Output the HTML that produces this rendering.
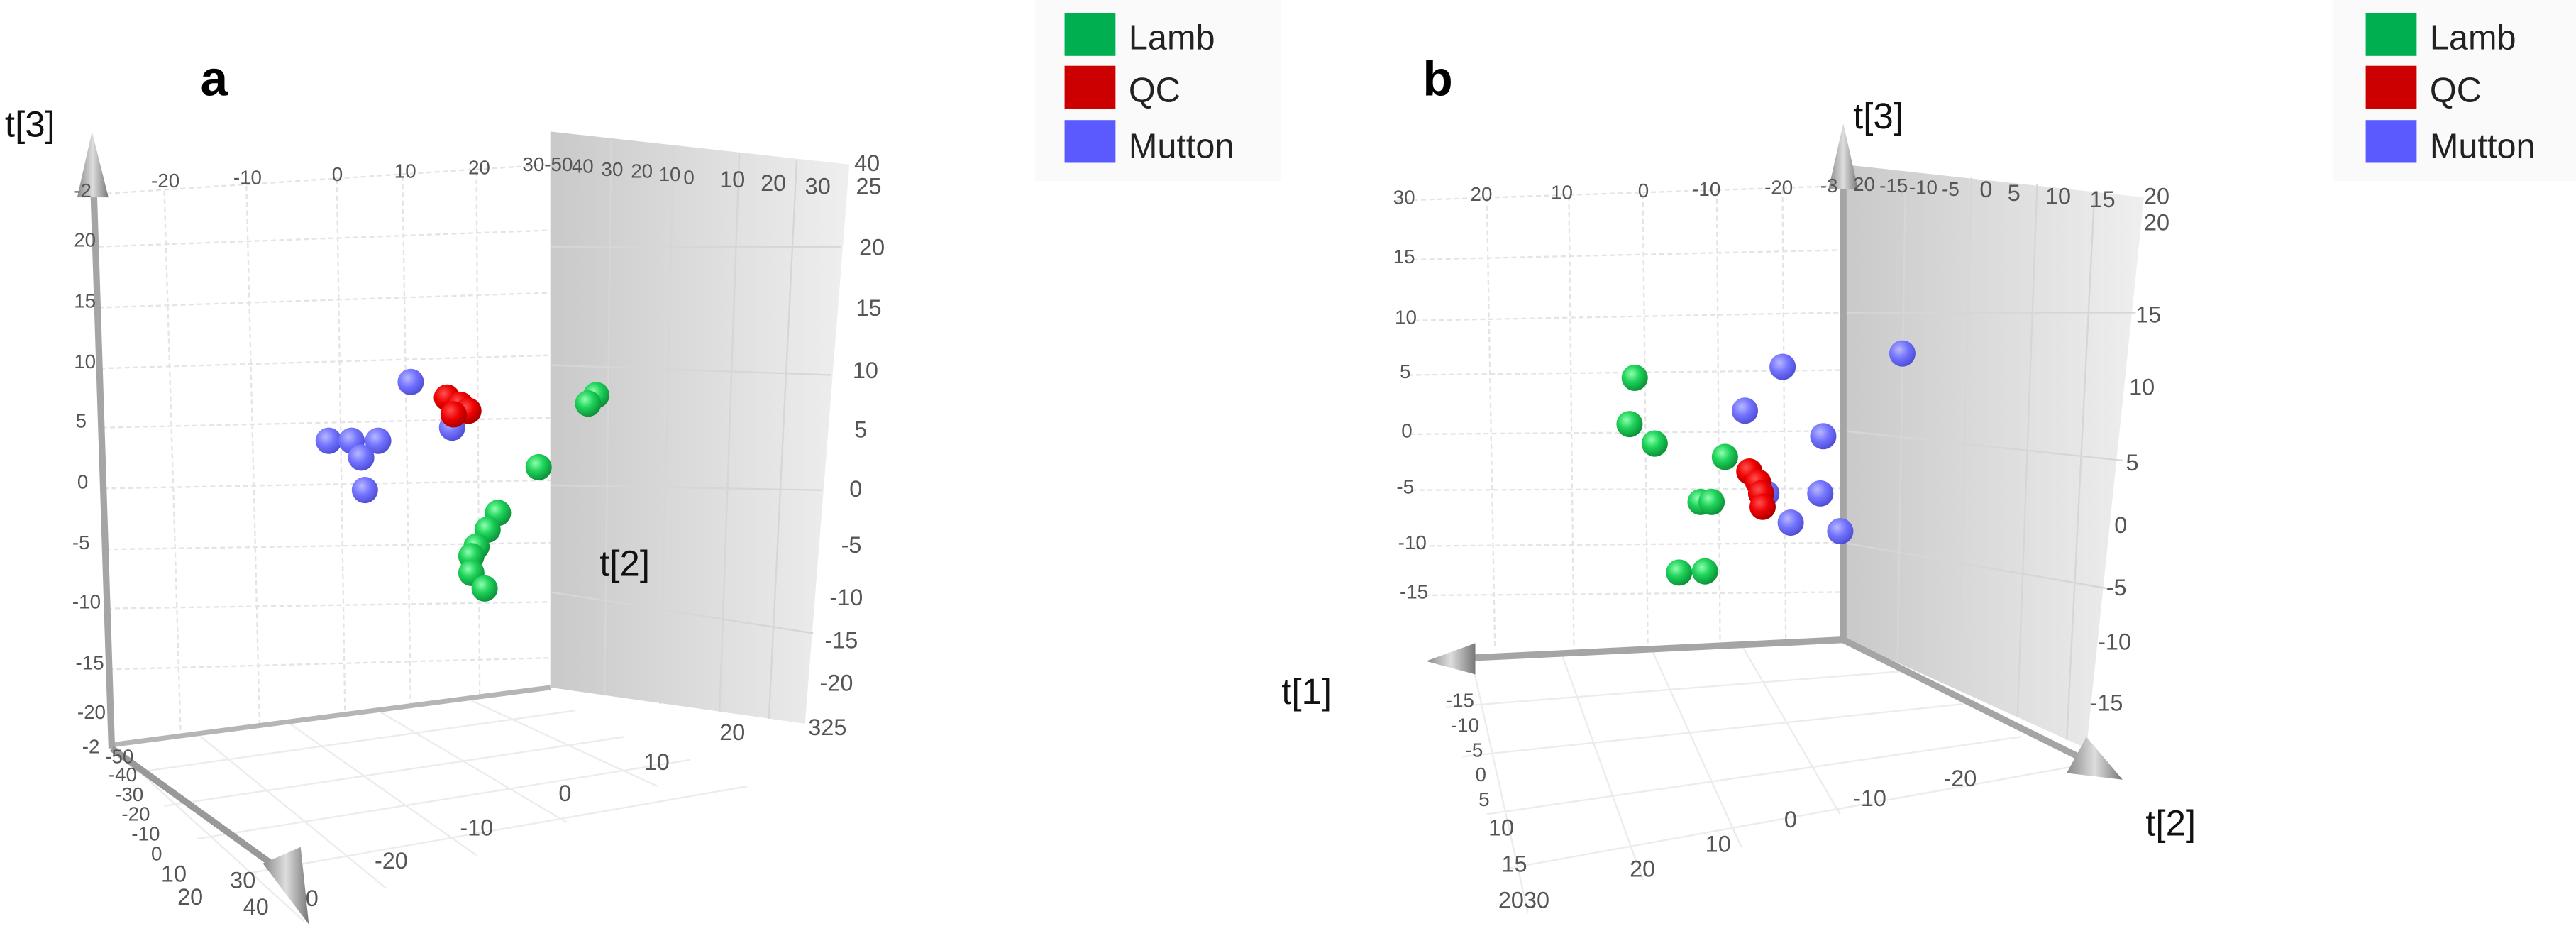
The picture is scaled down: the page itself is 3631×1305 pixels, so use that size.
<!DOCTYPE html>
<html><head><meta charset="utf-8"><style>
html,body{margin:0;padding:0;background:#fff;}
svg{display:block;}
text{font-family:"Liberation Sans","DejaVu Sans",sans-serif;}
.tk{font-size:12px;fill:#555;}
.ax{font-size:22px;fill:#111;}
.lg{font-size:21px;fill:#222;}
</style></head><body>
<svg id="chart" width="3631" height="1305" viewBox="0 0 1568 563" preserveAspectRatio="none" xmlns="http://www.w3.org/2000/svg">
<defs>
<linearGradient id="wallA" x1="0" y1="0" x2="1" y2="0"><stop offset="0" stop-color="#c9c9c9"/><stop offset="1" stop-color="#efefef"/></linearGradient>
<linearGradient id="axg" x1="0" y1="0" x2="1" y2="0"><stop offset="0" stop-color="#888"/><stop offset="0.5" stop-color="#ddd"/><stop offset="1" stop-color="#777"/></linearGradient>
<radialGradient id="gG" cx="0.38" cy="0.35" r="0.7"><stop offset="0" stop-color="#8fffb0"/><stop offset="0.45" stop-color="#1ed35a"/><stop offset="1" stop-color="#0a8a35"/></radialGradient>
<radialGradient id="gR" cx="0.38" cy="0.35" r="0.7"><stop offset="0" stop-color="#ff5050"/><stop offset="0.5" stop-color="#ee0000"/><stop offset="1" stop-color="#a00000"/></radialGradient>
<radialGradient id="gB" cx="0.38" cy="0.35" r="0.7"><stop offset="0" stop-color="#b8b8ff"/><stop offset="0.5" stop-color="#7272ff"/><stop offset="1" stop-color="#4a4ad0"/></radialGradient>
</defs>

<g>
  <g stroke="#ececec" stroke-width="1">
    <line x1="67" y1="453" x2="185" y2="560"/>
    <line x1="120" y1="446" x2="235" y2="540"/><line x1="175" y1="439" x2="290" y2="520"/>
    <line x1="230" y1="432" x2="345" y2="500"/><line x1="285" y1="425" x2="400" y2="478"/>
    <line x1="80" y1="470" x2="350" y2="432"/><line x1="100" y1="490" x2="380" y2="448"/>
    <line x1="120" y1="510" x2="420" y2="462"/><line x1="145" y1="532" x2="455" y2="478"/>
  </g>
  <g stroke="#e4e4e4" stroke-width="1" stroke-dasharray="3,2">
    <line x1="60" y1="118" x2="335" y2="100"/>
    <line x1="100" y1="116" x2="110" y2="447"/><line x1="150" y1="113" x2="158" y2="440"/>
    <line x1="205" y1="109" x2="210" y2="433"/><line x1="245" y1="107" x2="250" y2="428"/>
    <line x1="290" y1="104" x2="292" y2="423"/>
    <line x1="60" y1="150" x2="335" y2="140"/><line x1="60" y1="187" x2="335" y2="178"/>
    <line x1="61" y1="224" x2="335" y2="216"/><line x1="62" y1="260" x2="335" y2="254"/>
    <line x1="63" y1="297" x2="335" y2="292"/><line x1="64" y1="334" x2="335" y2="330"/>
    <line x1="65" y1="370" x2="335" y2="366"/><line x1="66" y1="407" x2="335" y2="400"/>
  </g>
  <polygon points="335,80 517,100 490,440 335,418" fill="url(#wallA)"/>
  <g stroke="#d6d6d6" stroke-width="1">
    <line x1="372" y1="85" x2="368" y2="423"/><line x1="410" y1="89" x2="402" y2="428"/>
    <line x1="450" y1="93" x2="438" y2="433"/><line x1="485" y1="97" x2="468" y2="437"/>
    <line x1="335" y1="150" x2="512" y2="150"/><line x1="335" y1="222" x2="506" y2="228"/>
    <line x1="335" y1="295" x2="500" y2="298"/><line x1="335" y1="360" x2="495" y2="385"/>
  </g>
  <line x1="67" y1="453" x2="335" y2="418" stroke="#b5b5b5" stroke-width="3"/>
  <line x1="68" y1="455" x2="57" y2="115" stroke="#a5a5a5" stroke-width="4"/>
  <polygon points="56,80 47,120 66,120" fill="url(#axg)"/>
  <line x1="68" y1="455" x2="172" y2="530" stroke="#999" stroke-width="4"/>
  <polygon points="188,562 160,525 183,515" fill="url(#axg)"/>
  <text class="ax" x="3" y="83">t[3]</text>
  <text class="ax" x="365" y="350">t[2]</text>
  <text x="122" y="58" font-family="Liberation Serif,serif" font-weight="bold" font-size="30">a</text>
  <g class="tk">
    <text x="92" y="114">-20</text><text x="142" y="112">-10</text><text x="202" y="110">0</text><text x="240" y="108">10</text><text x="285" y="106">20</text>
    <text x="318" y="104">30-50</text><text x="348" y="105">40</text><text x="366" y="107">30</text><text x="384" y="108">20</text><text x="401" y="110">10</text><text x="416" y="112">0</text>
    <text x="438" y="114" font-size="14">10</text><text x="463" y="116" font-size="14">20</text><text x="490" y="118" font-size="14">30</text><text x="520" y="104" font-size="14">40</text>
    <text x="521" y="118" font-size="14">25</text><text x="523" y="155" font-size="14">20</text><text x="521" y="192" font-size="14">15</text><text x="519" y="230" font-size="14">10</text>
    <text x="520" y="266" font-size="14">5</text><text x="517" y="302" font-size="14">0</text><text x="512" y="336" font-size="14">-5</text><text x="505" y="368" font-size="14">-10</text>
    <text x="502" y="394" font-size="14">-15</text><text x="499" y="420" font-size="14">-20</text><text x="492" y="447" font-size="14">325</text>
    <text x="45" y="120">-2</text><text x="45" y="150">20</text><text x="45" y="187">15</text><text x="45" y="224">10</text><text x="46" y="260">5</text><text x="47" y="297">0</text>
    <text x="44" y="334">-5</text><text x="44" y="370">-10</text><text x="46" y="407">-15</text><text x="47" y="437">-20</text><text x="50" y="458">-2</text>
    <text x="64" y="464">-50</text><text x="66" y="475">-40</text><text x="70" y="487">-30</text><text x="74" y="499">-20</text><text x="80" y="511">-10</text><text x="92" y="523">0</text>
    <text x="98" y="536" font-size="14">10</text><text x="108" y="550" font-size="14">20</text><text x="140" y="540" font-size="14">30</text><text x="148" y="556" font-size="14">40</text>
    <text x="228" y="528" font-size="14">-20</text><text x="280" y="508" font-size="14">-10</text><text x="340" y="487" font-size="14">0</text>
    <text x="392" y="468" font-size="14">10</text><text x="438" y="450" font-size="14">20</text><text x="186" y="551" font-size="14">0</text>
  </g>
  <g id="ptsA"></g>
  <g>
    <rect x="630" y="0" width="150" height="110" fill="#fafafa"/>
    <rect x="648" y="8" width="31" height="26" fill="#00b050"/>
    <text class="lg" x="687" y="30">Lamb</text>
    <rect x="648" y="40" width="31" height="26" fill="#cc0000"/>
    <text class="lg" x="687" y="62">QC</text>
    <rect x="648" y="73" width="31" height="26" fill="#5a5aff"/>
    <text class="lg" x="687" y="96">Mutton</text>
  </g>
</g>

<g>
  <g stroke="#e4e4e4" stroke-width="1" stroke-dasharray="3,2">
    <line x1="850" y1="122" x2="1122" y2="113"/>
    <line x1="905" y1="120" x2="910" y2="395"/><line x1="955" y1="119" x2="958" y2="393"/>
    <line x1="1000" y1="118" x2="1003" y2="392"/><line x1="1045" y1="116" x2="1047" y2="390"/><line x1="1085" y1="115" x2="1087" y2="389"/>
    <line x1="855" y1="158" x2="1122" y2="152"/><line x1="856" y1="195" x2="1122" y2="190"/><line x1="857" y1="228" x2="1122" y2="225"/>
    <line x1="858" y1="264" x2="1122" y2="262"/><line x1="859" y1="298" x2="1122" y2="297"/><line x1="860" y1="332" x2="1122" y2="330"/><line x1="862" y1="362" x2="1122" y2="360"/>
  </g>
  <g stroke="#ececec" stroke-width="1">
    <line x1="895" y1="398" x2="930" y2="555"/><line x1="950" y1="396" x2="1000" y2="535"/><line x1="1005" y1="394" x2="1060" y2="515"/><line x1="1060" y1="392" x2="1120" y2="495"/>
    <line x1="880" y1="430" x2="1160" y2="408"/><line x1="890" y1="460" x2="1195" y2="428"/><line x1="905" y1="495" x2="1230" y2="448"/><line x1="918" y1="528" x2="1262" y2="466"/>
  </g>
  <polygon points="1122,100 1305,120 1270,455 1122,388" fill="url(#wallA)"/>
  <g stroke="#d6d6d6" stroke-width="1">
    <line x1="1160" y1="104" x2="1155" y2="403"/><line x1="1200" y1="108" x2="1192" y2="420"/><line x1="1240" y1="112" x2="1228" y2="436"/><line x1="1275" y1="116" x2="1258" y2="450"/>
    <line x1="1122" y1="190" x2="1300" y2="190"/><line x1="1122" y1="262" x2="1292" y2="280"/><line x1="1122" y1="330" x2="1284" y2="358"/>
  </g>
  <line x1="1122" y1="390" x2="1122" y2="110" stroke="#a5a5a5" stroke-width="4"/>
  <polygon points="1122,75 1113,115 1131,115" fill="url(#axg)"/>
  <line x1="1122" y1="389" x2="895" y2="400" stroke="#a5a5a5" stroke-width="4"/>
  <polygon points="868,402 898,391 898,410" fill="url(#axg)"/>
  <line x1="1122" y1="389" x2="1265" y2="460" stroke="#a5a5a5" stroke-width="4"/>
  <polygon points="1292,474 1258,470 1270,448" fill="url(#axg)"/>
  <text class="ax" x="1128" y="78">t[3]</text>
  <text class="ax" x="780" y="428">t[1]</text>
  <text class="ax" x="1306" y="508">t[2]</text>
  <text x="866" y="58" font-family="Liberation Serif,serif" font-weight="bold" font-size="30">b</text>
  <g class="tk">
    <text x="848" y="124">30</text><text x="895" y="122">20</text><text x="944" y="121">10</text><text x="997" y="120">0</text><text x="1030" y="119">-10</text><text x="1074" y="118">-20</text><text x="1108" y="117">-3</text>
    <text x="1128" y="116">20</text><text x="1144" y="117">-15</text><text x="1162" y="118">-10</text><text x="1182" y="119">-5</text><text x="1205" y="120" font-size="14">0</text>
    <text x="1222" y="122" font-size="14">5</text><text x="1245" y="124" font-size="14">10</text><text x="1272" y="126" font-size="14">15</text><text x="1305" y="124" font-size="14">20</text>
    <text x="1305" y="140" font-size="14">20</text><text x="1300" y="196" font-size="14">15</text><text x="1296" y="240" font-size="14">10</text><text x="1294" y="286" font-size="14">5</text>
    <text x="1287" y="324" font-size="14">0</text><text x="1282" y="362" font-size="14">-5</text><text x="1277" y="395" font-size="14">-10</text><text x="1272" y="432" font-size="14">-15</text>
    <text x="848" y="160">15</text><text x="849" y="197">10</text><text x="852" y="230">5</text><text x="853" y="266">0</text><text x="850" y="300">-5</text><text x="851" y="334">-10</text><text x="852" y="364">-15</text>
    <text x="880" y="430">-15</text><text x="883" y="445">-10</text><text x="892" y="460">-5</text><text x="898" y="475">0</text><text x="900" y="490">5</text>
    <text x="906" y="508" font-size="14">10</text><text x="914" y="530" font-size="14">15</text><text x="912" y="552" font-size="14">2030</text>
    <text x="992" y="533" font-size="14">20</text><text x="1038" y="518" font-size="14">10</text><text x="1086" y="503" font-size="14">0</text>
    <text x="1128" y="490" font-size="14">-10</text><text x="1183" y="478" font-size="14">-20</text>
  </g>
  <g id="ptsB"></g>
  <g>
    <rect x="1420" y="0" width="148" height="110" fill="#fafafa"/>
    <rect x="1440" y="8" width="31" height="26" fill="#00b050"/>
    <text class="lg" x="1479" y="30">Lamb</text>
    <rect x="1440" y="40" width="31" height="26" fill="#cc0000"/>
    <text class="lg" x="1479" y="62">QC</text>
    <rect x="1440" y="73" width="31" height="26" fill="#5a5aff"/>
    <text class="lg" x="1479" y="96">Mutton</text>
  </g>
</g>
</svg>
<script>
const muttonA_u = [10, -1.1, 2, 5.6, 3.3, 3.8, 15.6];
const muttonA_v = [8.6, 3.7, 3.7, 3.7, 2.3, -0.4, 4.8];
const qcA_u = [14.9, 16.7, 17.8, 15.8];
const qcA_v = [7.3, 6.7, 6.2, 5.9];
const lambA_u = [35.1, 34, 27.3, 21.8, 20.4, 18.9, 18.2, 18.2, 20];
const lambA_v = [7.5, 6.8, 1.5, -2.3, -3.7, -5.1, -5.9, -7.3, -8.6];
const lambB_u = [1.1, 1.8, -1.6, -11.1, -7.8, -9.3, -4.9, -8.4];
const lambB_v = [4.5, 0.7, -0.9, -2, -5.7, -5.7, -11.5, -11.4];
const muttonB_u = [-18.9, -13.8, -24.4, -35.1, -24, -20, -26.7, -16.7];
const muttonB_v = [5.4, 1.8, -0.3, 6.5, -5, -7.4, -8.1, -5];
const qcB_u = [-14.4, -15.6, -16, -16.2];
const qcB_v = [-3.2, -4.1, -5, -6.1];

const xA = u => 205 + 4.5 * u, yA = v => 295 - 7.3 * v;
const xB = u => 1000 - 4.5 * u, yB = v => 263 - 7.4 * v;
const NS = 'http://www.w3.org/2000/svg';
function draw(gid, us, vs, fx, fy, fill, name) {
  const g = document.getElementById(gid);
  for (let i = 0; i < us.length; i++) {
    const c = document.createElementNS(NS, 'circle');
    c.setAttribute('cx', fx(us[i]));
    c.setAttribute('cy', fy(vs[i]));
    c.setAttribute('r', 8);
    c.setAttribute('fill', fill);
    
    
    g.appendChild(c);
  }
}
draw('ptsA', muttonA_u, muttonA_v, xA, yA, 'url(#gB)', 'mutton-point');
draw('ptsA', qcA_u, qcA_v, xA, yA, 'url(#gR)', 'qc-point');
draw('ptsA', lambA_u, lambA_v, xA, yA, 'url(#gG)', 'lamb-point');
draw('ptsB', muttonB_u, muttonB_v, xB, yB, 'url(#gB)', 'mutton-point');
draw('ptsB', lambB_u, lambB_v, xB, yB, 'url(#gG)', 'lamb-point');
draw('ptsB', qcB_u, qcB_v, xB, yB, 'url(#gR)', 'qc-point');
</script>
</body></html>
